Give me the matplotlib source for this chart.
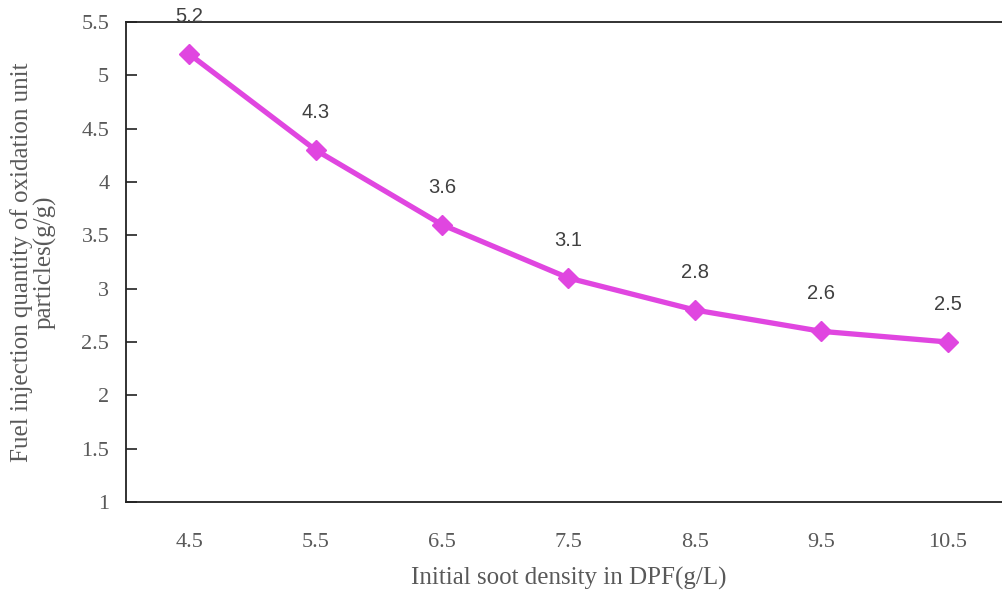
import matplotlib.pyplot as plt

# data
soot_density = ['4.5', '5.5', '6.5', '7.5', '8.5', '9.5', '10.5']
fuel_qty = [5.2, 4.3, 3.6, 3.1, 2.8, 2.6, 2.5]
y_ticks = [1, 1.5, 2, 2.5, 3, 3.5, 4, 4.5, 5, 5.5]
y_tick_labels = ['1', '1.5', '2', '2.5', '3', '3.5', '4', '4.5', '5', '5.5']

line_color = '#E046E0'
text_color = '#595959'

fig = plt.figure(figsize=(10.02, 5.93), dpi=100)
ax = fig.add_axes([0.1257, 0.1535, 0.8743, 0.8094])

x = list(range(len(soot_density)))
ax.plot(x, fuel_qty, color=line_color, lw=3.8, marker='D', markersize=10,
        clip_on=False, zorder=3)

for xi, yi in zip(x, fuel_qty):
    ax.annotate(str(yi), (xi, yi), xytext=(0, 27), textcoords='offset points',
                ha='center', va='center', fontsize=14.5, color='#404040',
                family='Liberation Sans')

ax.set_xlim(-0.5, 6.43)
ax.set_ylim(1, 5.5)

ax.set_xticks(x)
ax.set_xticklabels(soot_density, family='Liberation Serif', fontsize=16, color=text_color)
ax.set_yticks(y_ticks)
ax.set_yticklabels(y_tick_labels, family='Liberation Serif', fontsize=16, color=text_color)

ax.tick_params(axis='x', length=0, pad=22)
ax.tick_params(axis='y', direction='in', length=8, width=1.2, color='#222222', pad=12)

ax.spines['right'].set_visible(False)
for s in ['left', 'bottom', 'top']:
    ax.spines[s].set_color('#222222')
    ax.spines[s].set_linewidth(1.3)

fig.text(0.568, 1 - 578 / 593, 'Initial soot density in DPF(g/L)', ha='center', va='center',
         family='Liberation Serif', fontsize=18, color=text_color)
fig.text(33 / 1002, 1 - 262 / 593, 'Fuel injection quantity of oxidation unit\nparticles(g/g)',
         ha='center', va='center', rotation=90, multialignment='center',
         family='Liberation Serif', fontsize=18, color=text_color, linespacing=1.05)

plt.savefig('out.png', dpi=100)
